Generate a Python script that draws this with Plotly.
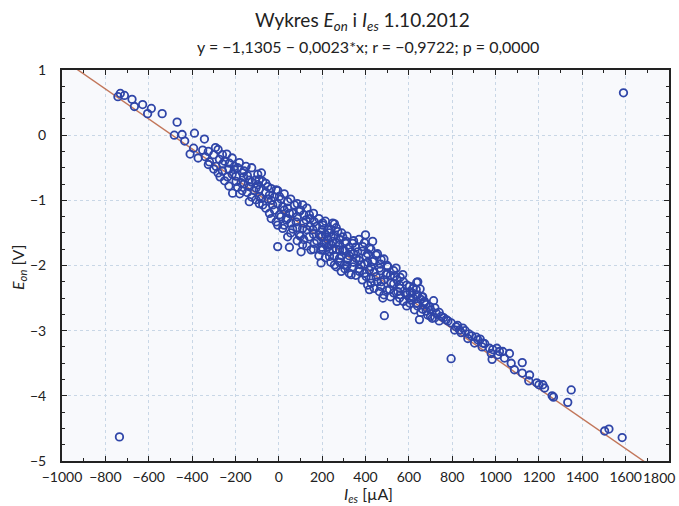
import numpy as np
import plotly.graph_objects as go

# ---- data (I_es in µA, E_on in V) ----
i_es = [
    -731, -712, -742, -677, -666, -628, -605, -588, -538, -469, -482, -446, -434, -389, -409, -393, -372,
    -343, -351, -292, -339, -320, -240, -274, -259, -289, -228, -182, -205, -151, -271, -236, -197, -162,
    -136, -97, -108, -174, -213, -169, -136, -97, -136, -105,
    -205, -167, -74, -197, -105, -51, -12, -89, -43, 3, 41, -74, -28, 18, 72, 110, -43, 3, 49, 95, 141,
    -12, 34, 80, 126, 164, 18, 64, 110, 157, 203, 249, 41, 95, 141, 187, 233, -5, 49, 110, 164, 210, 249,
    103, 149, 195, 233, 280,
    203, 257, 226, 272, 195, 241, 295, 218, 264, 311, 341, 400, 433, 387, 418, 203, 249, 295, 334, 364,
    234, 280, 318, 357, 403, 449, 472, 433, 195, 257, 303, 341, 380, 288, 334, 372, 418, 464, 503, 541,
    403, 449, 495, 534, 572, 426, 472, 518, 557, 603, 641, 418, 464, 511, 549, 588, 634, 480, 557, 603,
    664, 672, 487,
    636, 652, 615, 661, 611, 634, 672, 714, 626, 664, 696, 649, 687, 726, 749, 708, 772, 795, 818, 849,
    834, 877, 911, 929, 941, 972, 1006, 1018, 1064, 980, 795,
    811, 841, 872, 918, 903, 938, 987, 1033, 984, 1010, 1041, 1072, 1087, 1123, 1123, 1157, 1153, 1190,
    1200, 1218, 1226, 1261, 1267, 1349, 1333, 1503, 1523, 1584,
    -735, 1590,
    -325, -325, -300, -300, -280, -280, -260, -260, -250, -250, -230, -230, -215, -215, -190, -190,
    -180, -160, -160, -145, -145, -125, -125, -125, -115, -90, -90, -90, -80, -80, -60, -60, -60, -50,
    -35, -35, -35, -20, -20, -5, -5, -5, 10, 10, 25, 25, 25, 40, 40, 55, 55, 55, 65,
    85, 85, 85, 85, 100, 100, 115, 115, 115, 130, 130, 130, 145, 145, 160, 160, 160, 175, 175, 185, 185,
    200, 200, 200, 215, 215, 215, 225, 225, 240, 240, 240, 255, 255, 265, 265, 265, 280, 280, 280,
    290, 290, 305, 305, 305, 315, 315, 325, 325, 325, 345, 345, 345, 355, 355, 370, 370, 370, 385, 385,
    395, 395, 395, 410, 410, 410, 425, 425, 425, 440, 440, 440, 455, 455, 470, 470, 470, 485, 485, 485,
    500, 500, 500, 515, 515, 530, 530, 530, 545, 545, 560, 560, 560, 575, 575, 590, 590, 590, 605, 605,
    620, 620, 640, 640, 655, 655, 680, 680, 700, 700, 720, 720, 740, 740, 760, 780, 825, 860, 890, 950,
]
e_on = [
    0.64, 0.61, 0.59, 0.55, 0.44, 0.47, 0.33, 0.41, 0.33, 0.20, 0.00, 0.01, -0.09, 0.03, -0.29, -0.20, -0.35,
    -0.06, -0.23, -0.19, -0.33, -0.41, -0.29, -0.37, -0.44, -0.48, -0.43, -0.42, -0.48, -0.48, -0.64, -0.64, -0.63, -0.64,
    -0.69, -0.60, -0.69, -0.73, -0.89, -0.85, -0.79, -0.76, -1.02, -0.99,
    -0.53, -0.58, -0.71, -0.71, -0.81, -0.79, -0.84, -0.94, -0.92, -0.94, -1.02, -1.07, -1.07, -1.10, -1.07, -1.07, -1.20, -1.22, -1.20, -1.17, -1.22,
    -1.33, -1.30, -1.33, -1.30, -1.33, -1.43, -1.44, -1.43, -1.45, -1.38, -1.35, -1.56, -1.53, -1.56, -1.53, -1.50, -1.71, -1.72, -1.68, -1.66, -1.66, -1.63,
    -1.79, -1.76, -1.76, -1.79, -1.76,
    -1.35, -1.36, -1.45, -1.48, -1.56, -1.56, -1.56, -1.66, -1.65, -1.63, -1.66, -1.53, -1.63, -1.71, -1.73, -1.76, -1.76, -1.76, -1.79, -1.79,
    -1.86, -1.89, -1.91, -1.89, -1.86, -1.84, -1.91, -1.94, -1.96, -1.99, -1.99, -2.02, -1.99, -2.09, -2.14, -2.09, -2.07, -2.04, -2.02, -2.04,
    -2.17, -2.17, -2.14, -2.17, -2.14, -2.27, -2.25, -2.27, -2.30, -2.32, -2.25, -2.37, -2.40, -2.37, -2.40, -2.42, -2.37, -2.50, -2.50, -2.50,
    -2.48, -2.55, -2.77,
    -2.26, -2.36, -2.42, -2.48, -2.53, -2.58, -2.57, -2.54, -2.68, -2.67, -2.63, -2.83, -2.76, -2.73, -2.78, -2.81, -2.83, -2.88, -2.94, -2.96,
    -2.99, -3.05, -3.10, -3.13, -3.19, -3.27, -3.27, -3.32, -3.35, -3.35, -3.43,
    -2.99, -3.03, -3.12, -3.14, -3.19, -3.25, -3.29, -3.32, -3.44, -3.37, -3.42, -3.50, -3.60, -3.49, -3.65, -3.68, -3.77, -3.80,
    -3.83, -3.83, -3.88, -4.00, -4.02, -3.91, -4.10, -4.54, -4.51, -4.64,
    -4.63, 0.65,
    -0.25, -0.45, -0.30, -0.52, -0.22, -0.58, -0.30, -0.55, -0.40, -0.70, -0.52, -0.78, -0.35, -0.60, -0.50, -0.80,
    -0.90, -0.55, -0.75, -0.62, -0.88, -0.50, -0.72, -0.95, -0.85, -0.68, -0.83, -1.05, -0.58, -0.97, -0.74, -0.88, -1.12, -0.98,
    -0.82, -1.00, -1.28, -0.95, -1.15, -0.85, -1.05, -1.38, -0.98, -1.25, -0.90, -1.15, -1.38, -1.12, -1.28, -0.98, -1.35, -1.50, -1.20,
    -1.05, -1.25, -1.42, -1.62, -1.15, -1.55, -1.22, -1.35, -1.60, -1.12, -1.45, -1.70, -1.28, -1.40, -1.20, -1.52, -1.75, -1.40, -1.62, -1.28, -1.85,
    -1.45, -1.55, -1.72, -1.32, -1.52, -1.88, -1.60, -1.72, -1.45, -1.68, -1.95, -1.55, -1.85, -1.42, -1.75, -2.02, -1.60, -1.68, -1.95,
    -1.50, -1.85, -1.65, -1.78, -2.05, -1.55, -2.00, -1.72, -1.85, -2.12, -1.62, -1.82, -1.95, -1.72, -2.15, -1.60, -1.92, -2.05, -1.78, -2.22,
    -1.65, -1.98, -2.12, -1.82, -1.95, -2.30, -1.75, -2.02, -2.20, -1.92, -2.10, -2.35, -1.82, -2.25, -1.98, -2.08, -2.32, -1.90, -2.22, -2.45,
    -2.00, -2.12, -2.38, -2.15, -2.48, -2.08, -2.28, -2.42, -2.22, -2.55, -2.18, -2.35, -2.45, -2.25, -2.55, -2.30, -2.45, -2.62, -2.40, -2.58,
    -2.35, -2.50, -2.45, -2.62, -2.52, -2.72, -2.60, -2.70, -2.68, -2.78, -2.65, -2.80, -2.72, -2.85, -2.80, -2.85, -2.92, -3.00, -3.08, -3.20,
]

intercept = -1.1305
slope = -0.0023

x_ticks = list(range(-1000, 1801, 200))
y_ticks = [-5, -4, -3, -2, -1, 0, 1]

title_text = "Wykres <i>E<sub>on</sub></i> i <i>I<sub>es</sub></i> 1.10.2012"
subtitle_text = "y = \u22121,1305 \u2212 0,0023*x; r = \u22120,9722; p = 0,0000"
x_title = "<i>I<sub>es</sub></i> [\u00b5A]"
y_title = "<i>E<sub>on</sub></i> [V]"

FONT = "Lato"
TXT = "#222222"
W, H = 679, 506
ML, MR, MT, MB = 62, 10, 70, 45
PH = H - MT - MB
PW = W - ML - MR
TICK_SIZE = 14


def fmt(v):
    return ("\u2212" + str(-v)) if v < 0 else str(v)


# the last x label is drawn right-aligned at the page edge (as in the reference)
x_ticktext = [fmt(v) for v in x_ticks]
last_x_label = x_ticktext[-1]
x_ticktext[-1] = ""

line_x = np.array([x_ticks[0], x_ticks[-1]], dtype=float)
line_y = intercept + slope * line_x

fig = go.Figure()
fig.add_trace(go.Scatter(
    x=line_x, y=line_y, mode="lines",
    line=dict(color="#c2765a", width=1.4),
    hoverinfo="skip", showlegend=False,
))
fig.add_trace(go.Scatter(
    x=i_es, y=e_on, mode="markers",
    marker=dict(symbol="circle-open", size=7.5, color="#2f45a8", line=dict(width=1.8)),
    showlegend=False, cliponaxis=False,
))

axis_common = dict(
    showline=True, linecolor=TXT, linewidth=2, mirror="ticks",
    ticks="inside", ticklen=5, tickwidth=1.2, tickcolor=TXT,
    showgrid=True, gridcolor="#c9d7e6", griddash="dot", gridwidth=1,
    zeroline=False, automargin=False, ticklabeloverflow="allow", tickangle=0,
    tickfont=dict(family=FONT, size=TICK_SIZE, color=TXT),
)

fig.update_xaxes(
    **axis_common,
    range=[x_ticks[0], x_ticks[-1]],
    tickmode="array", tickvals=x_ticks, ticktext=x_ticktext,
    minor=dict(dtick=100, ticks="inside", ticklen=3, tickcolor=TXT, showgrid=False),
    ticklabelstandoff=2,
)
fig.update_yaxes(
    **axis_common,
    range=[y_ticks[0], y_ticks[-1]],
    tickmode="array", tickvals=y_ticks, ticktext=[fmt(v) for v in y_ticks],
    minor=dict(dtick=0.25, ticks="inside", ticklen=3, tickcolor=TXT, showgrid=False),
    ticklabelstandoff=11,
)

fig.update_layout(
    width=W, height=H,
    margin=dict(l=ML, r=MR, t=MT, b=MB),
    paper_bgcolor="white", plot_bgcolor="#f8f9fc",
    font=dict(family=FONT, color=TXT),
)


def py(pix):
    """pixel row from top of page -> paper y"""
    return (H - MB - pix) / PH


def px(pix):
    return (pix - ML) / PW


fig.add_annotation(text=title_text, xref="paper", yref="paper", x=px(362), y=py(21),
                   yanchor="middle", showarrow=False, font=dict(family=FONT, size=19, color=TXT))
fig.add_annotation(text=subtitle_text, xref="paper", yref="paper", x=px(368), y=py(46),
                   yanchor="middle", showarrow=False, font=dict(family=FONT, size=16, color=TXT))
fig.add_annotation(text=last_x_label, xref="paper", yref="paper", x=px(677), y=py(477),
                   xanchor="right", yanchor="middle", showarrow=False,
                   font=dict(family=FONT, size=TICK_SIZE, color=TXT))
fig.add_annotation(text=x_title, xref="paper", yref="paper", x=px(368), y=py(494),
                   yanchor="middle", showarrow=False, font=dict(family=FONT, size=16, color=TXT))
fig.add_annotation(text=y_title, xref="paper", yref="paper", x=px(18), y=py(268),
                   xanchor="center", yanchor="middle", textangle=-90, showarrow=False,
                   font=dict(family=FONT, size=16, color=TXT))

fig.write_html("out.html", config={"displayModeBar": False},
               post_script="document.body.style.margin='0';document.body.style.overflow='hidden';")
